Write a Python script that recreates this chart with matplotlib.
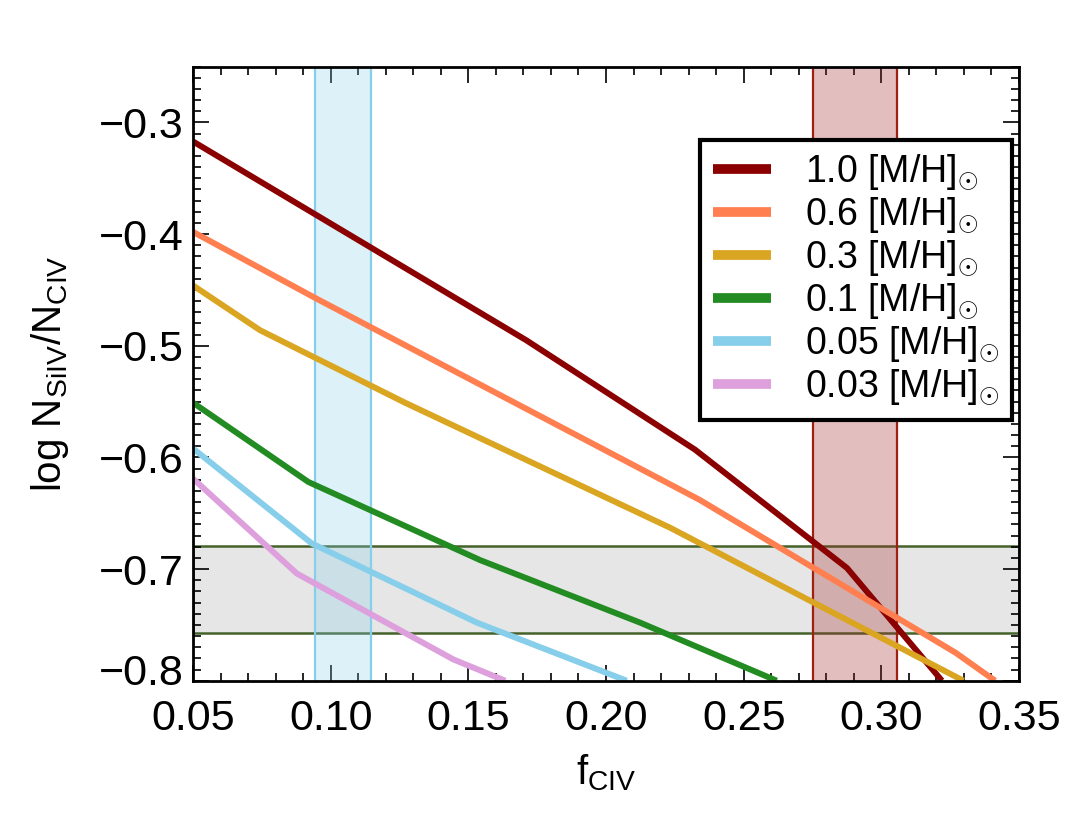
import matplotlib
matplotlib.use("Agg")
import matplotlib.pyplot as plt
from matplotlib.ticker import MultipleLocator
import matplotlib.transforms as mtransforms

plt.rcParams['font.family'] = ['Liberation Sans', 'DejaVu Sans']
plt.rcParams['mathtext.fontset'] = 'custom'
plt.rcParams['mathtext.rm'] = 'Liberation Sans'
plt.rcParams['mathtext.it'] = 'Liberation Sans:italic'
plt.rcParams['mathtext.bf'] = 'Liberation Sans:bold'

# ---- data ----
labels = ['1.0', '0.6', '0.3', '0.1', '0.05', '0.03']
colors = ['#8b0000', '#ff7f50', '#daa520', '#228b22', '#87ceeb', '#dda0dd']

x_10 = [0.050, 0.171, 0.2323, 0.2875, 0.3220]
y_10 = [-0.317, -0.495, -0.593, -0.699, -0.800]

x_06 = [0.050, 0.095, 0.234, 0.327, 0.3413]
y_06 = [-0.398, -0.458, -0.638, -0.775, -0.800]

x_03 = [0.050, 0.0743, 0.127, 0.2233, 0.3298]
y_03 = [-0.446, -0.486, -0.551, -0.663, -0.800]

x_01 = [0.050, 0.0919, 0.1543, 0.2124, 0.2620]
y_01 = [-0.551, -0.622, -0.692, -0.748, -0.800]

x_005 = [0.050, 0.0931, 0.1531, 0.2075]
y_005 = [-0.592, -0.677, -0.748, -0.800]

x_003 = [0.050, 0.0877, 0.1446, 0.1634]
y_003 = [-0.619, -0.704, -0.781, -0.800]

series_x = [x_10, x_06, x_03, x_01, x_005, x_003]
series_y = [y_10, y_06, y_03, y_01, y_005, y_003]

blue_band = (0.0944, 0.1147)
brown_band = (0.2753, 0.3056)
gray_band = (-0.7576, -0.6794)

xtick_vals = [0.05, 0.10, 0.15, 0.20, 0.25, 0.30, 0.35]
xtick_labels = ['0.05', '0.10', '0.15', '0.20', '0.25', '0.30', '0.35']
ytick_vals = [-0.3, -0.4, -0.5, -0.6, -0.7, -0.8]
ytick_labels = ['\u22120.3', '\u22120.4', '\u22120.5', '\u22120.6', '\u22120.7', '\u22120.8']

fig = plt.figure(figsize=(10.82, 8.16), dpi=100)
ax = fig.add_axes([0.1784, 0.1658, 0.7634, 0.7525])

# bands
ax.axhspan(gray_band[0], gray_band[1], facecolor='#e6e6e6', edgecolor='#44622a',
           linewidth=1.8, zorder=1)
ax.axvspan(blue_band[0], blue_band[1], facecolor='#87ceeb', alpha=0.28,
           edgecolor='none', zorder=2)
ax.axvline(blue_band[0], color='#87ceeb', lw=1.6, zorder=2)
ax.axvline(blue_band[1], color='#87ceeb', lw=1.6, zorder=2)
ax.axvspan(brown_band[0], brown_band[1], facecolor='#a52a2a', alpha=0.3,
           edgecolor='none', zorder=2)
ax.axvline(brown_band[0], color='#a02010', lw=1.6, zorder=2)
ax.axvline(brown_band[1], color='#a02010', lw=1.6, zorder=2)

for xs, ys, c, lab in zip(series_x, series_y, colors, labels):
    ax.plot(xs, ys, color=c, lw=4.3, solid_capstyle='butt',
            label=lab + r' [M/H]$_{\odot}$', zorder=3)

ax.set_xlim(0.05, 0.35)
ax.set_ylim(-0.80, -0.25)
ax.xaxis.set_minor_locator(MultipleLocator(0.01))
ax.yaxis.set_minor_locator(MultipleLocator(0.01))
ax.set_xticks(xtick_vals)
ax.set_xticklabels(xtick_labels)
ax.set_yticks(ytick_vals)
ax.set_yticklabels(ytick_labels)

ax.tick_params(which='both', direction='in', top=True, right=True,
               labelsize=31, width=1.2)
ax.tick_params(which='major', length=11.5)
ax.tick_params(axis='x', which='major', pad=13)
ax.tick_params(axis='y', which='major', pad=7)
ax.tick_params(which='minor', length=6)
for s in ax.spines.values():
    s.set_linewidth(2)
    s.set_zorder(5)

# shift -0.8 label up a little as in the reference
lab08 = ax.get_yticklabels()[-1]
lab08.set_transform(lab08.get_transform() + mtransforms.ScaledTranslation(0, 11/100, fig.dpi_scale_trans))

ax.set_xlabel(r'f$_{\rm CIV}$', fontsize=29, labelpad=10)
ax.set_ylabel(r'log N$_{\rm SiIV}$/N$_{\rm CIV}$', fontsize=29, labelpad=20)

leg = ax.legend(loc='upper right', bbox_to_anchor=(0.9915, 0.8806), fontsize=27,
                frameon=True, fancybox=False, framealpha=1, edgecolor='black',
                handlelength=1.55, handletextpad=0.9, labelspacing=0.1,
                borderpad=0.35, borderaxespad=0)
leg.get_frame().set_linewidth(3)
leg.set_zorder(10)
for l in leg.get_lines():
    l.set_linewidth(7)

fig.savefig('out.png', dpi=100)
